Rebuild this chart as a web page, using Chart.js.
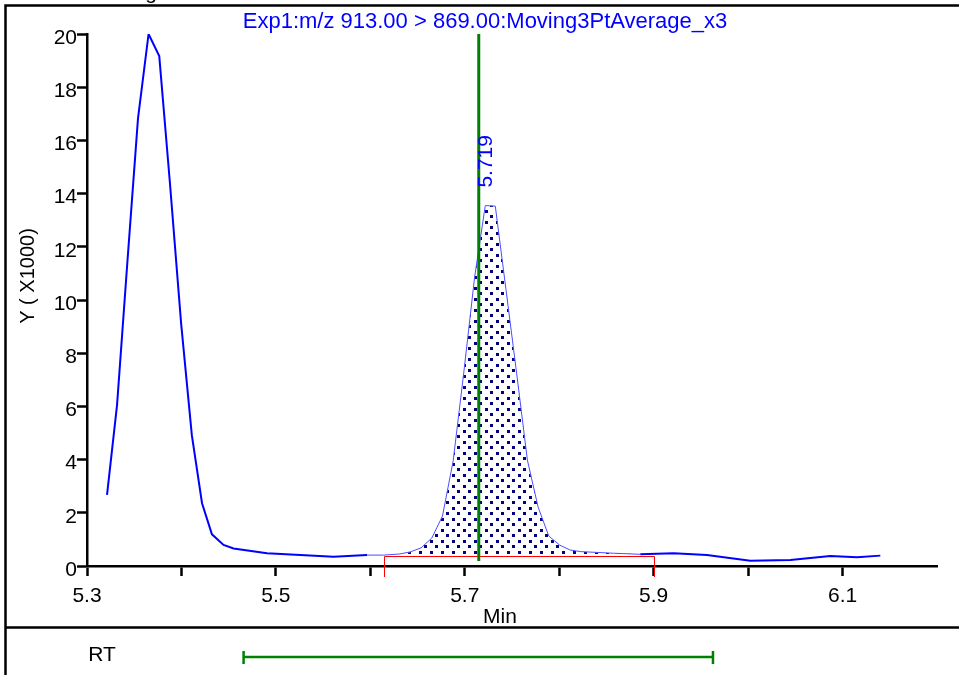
<!DOCTYPE html>
<html>
<head>
<meta charset="utf-8">
<script src="https://cdn.jsdelivr.net/npm/chart.js@4.4.1/dist/chart.umd.min.js"></script>
<style>
  html, body { margin: 0; padding: 0; background: #fff; }
</style>
</head>
<body>
<canvas id="chart1" width="959" height="675"></canvas>
<script>
// Datos del cromatograma (tiempo en min, señal en X1000)
const times = [5.3212, 5.3318, 5.3427, 5.354, 5.3652, 5.3765, 5.3878, 5.3997, 5.411, 5.4218,
  5.4323, 5.4446, 5.4552, 5.4906, 5.5611, 5.5965, 5.614, 5.6307, 5.6423, 5.6537,
  5.6651, 5.6764, 5.6877, 5.699, 5.7104, 5.7217, 5.7323, 5.7436, 5.755, 5.7663,
  5.7776, 5.7889, 5.8003, 5.8116, 5.8229, 5.8575, 5.8858, 5.9211, 5.9564, 6.0023,
  6.0447, 6.087, 6.1153, 6.14];
const signal = [2.67, 6.05, 11.4, 16.83, 20.0, 19.17, 14.4, 9.1, 4.92, 2.36,
  1.19, 0.79, 0.66, 0.48, 0.35, 0.41, 0.41, 0.45, 0.53, 0.68,
  1.05, 1.88, 3.95, 7.29, 10.85, 13.55, 13.53, 10.4, 7.22, 3.98,
  2.22, 1.13, 0.79, 0.6, 0.54, 0.48, 0.44, 0.48, 0.41, 0.2,
  0.23, 0.38, 0.33, 0.39];

// Ejes
const xTicks = [5.3, 5.4, 5.5, 5.6, 5.7, 5.8, 5.9, 6.0, 6.1];
const xTickLabels = ['5.3', '', '5.5', '', '5.7', '', '5.9', '', '6.1'];
const yTicks = [0, 2, 4, 6, 8, 10, 12, 14, 16, 18, 20];

// Pico integrado
const peakRT = 5.7148;
const peakLabel = '5.719';
const peakTop = 13.55;
const integStart = 5.614;
const integEnd = 5.9;
const integBase = 0.376;
const rtWindow = [5.4658, 5.9628];

const title = 'Exp1:m/z 913.00 > 869.00:Moving3PtAverage_x3';
const FONT = '"Liberation Sans", Arial, sans-serif';

// patrón de puntos para el área
const tile = document.createElement('canvas');
tile.width = 11; tile.height = 11;
const tc = tile.getContext('2d');
tc.fillStyle = '#000080';
tc.fillRect(1, 1, 3, 3);
tc.fillRect(6, 6, 3, 3);

function valueAt(t) {
  for (let i = 0; i < times.length - 1; i++) {
    if (t >= times[i] && t <= times[i + 1]) {
      const f = (t - times[i]) / (times[i + 1] - times[i]);
      return signal[i] + f * (signal[i + 1] - signal[i]);
    }
  }
  return integBase;
}

const extras = {
  id: 'extras',
  beforeDatasetsDraw(chart) {
    const { ctx, scales: { x, y } } = chart;
    ctx.save();
    ctx.beginPath();
    ctx.moveTo(x.getPixelForValue(integStart), y.getPixelForValue(integBase));
    ctx.lineTo(x.getPixelForValue(integStart), y.getPixelForValue(valueAt(integStart)));
    for (let i = 0; i < times.length; i++) {
      if (times[i] > integStart && times[i] < integEnd) {
        ctx.lineTo(x.getPixelForValue(times[i]), y.getPixelForValue(signal[i]));
      }
    }
    ctx.lineTo(x.getPixelForValue(integEnd), y.getPixelForValue(valueAt(integEnd)));
    ctx.lineTo(x.getPixelForValue(integEnd), y.getPixelForValue(integBase));
    ctx.closePath();
    ctx.fillStyle = ctx.createPattern(tile, 'repeat');
    ctx.fill();
    ctx.restore();
  },
  afterDatasetsDraw(chart) {
    const { ctx, scales: { x, y } } = chart;
    ctx.save();
    // línea base roja
    const xs = Math.round(x.getPixelForValue(integStart)) + 0.5;
    const xe = Math.round(x.getPixelForValue(integEnd)) + 0.5;
    const yb = Math.round(y.getPixelForValue(integBase)) + 0.5;
    ctx.strokeStyle = '#ff0000';
    ctx.lineWidth = 1;
    ctx.beginPath();
    ctx.moveTo(xs, y.bottom + 11);
    ctx.lineTo(xs, yb);
    ctx.lineTo(xe, yb);
    ctx.lineTo(xe, y.bottom + 11);
    ctx.stroke();

    // línea verde del tiempo de retención
    const xg = x.getPixelForValue(peakRT);
    ctx.strokeStyle = '#008000';
    ctx.lineWidth = 3;
    ctx.beginPath();
    ctx.moveTo(xg, y.top);
    ctx.lineTo(xg, y.getPixelForValue(0.19));
    ctx.stroke();

    // etiqueta del pico
    ctx.translate(xg + 13, y.getPixelForValue(peakTop) - 18);
    ctx.rotate(-Math.PI / 2);
    ctx.fillStyle = '#0000ff';
    ctx.font = '21px ' + FONT;
    ctx.textAlign = 'left';
    ctx.textBaseline = 'alphabetic';
    ctx.fillText(peakLabel, 0, 0);
    ctx.restore();
  },
  afterDraw(chart) {
    const { ctx, scales: { x } } = chart;
    ctx.save();
    // marco
    ctx.strokeStyle = '#000';
    ctx.lineWidth = 2.5;
    ctx.beginPath();
    ctx.moveTo(959, 5.5); ctx.lineTo(5.5, 5.5); ctx.lineTo(5.5, 675);
    ctx.moveTo(5.5, 627.5); ctx.lineTo(959, 627.5);
    ctx.stroke();

    // fragmento de texto cortado arriba
    ctx.fillStyle = '#000';
    ctx.font = '21px ' + FONT;
    ctx.textAlign = 'center';
    ctx.fillText('g', 151, -1);

    // título
    ctx.fillStyle = '#0000ff';
    ctx.font = '22px ' + FONT;
    ctx.fillText(title, 485, 28);

    // títulos de ejes
    ctx.fillStyle = '#000';
    ctx.font = '21px ' + FONT;
    ctx.fillText('Min', 500, 623);
    ctx.fillText('RT', 102, 661);
    ctx.save();
    ctx.translate(34, 276);
    ctx.rotate(-Math.PI / 2);
    ctx.font = '20px ' + FONT;
    ctx.fillText('Y ( X1000)', 0, 0);
    ctx.restore();

    // ventana RT
    const r0 = x.getPixelForValue(rtWindow[0]);
    const r1 = x.getPixelForValue(rtWindow[1]);
    ctx.strokeStyle = '#008000';
    ctx.lineWidth = 2.5;
    ctx.beginPath();
    ctx.moveTo(r0, 657); ctx.lineTo(r1, 657);
    ctx.moveTo(r0, 651); ctx.lineTo(r0, 664);
    ctx.moveTo(r1, 651); ctx.lineTo(r1, 664);
    ctx.stroke();
    ctx.restore();
  }
};

const inPeak = c => c.p0.parsed.x >= integStart - 0.02 && c.p1.parsed.x <= integEnd + 0.01;

const ctx = document.getElementById('chart1').getContext('2d');
const chart = new Chart(ctx, {
  type: 'line',
  data: {
    datasets: [{
      data: times.map((t, i) => ({ x: t, y: signal[i] })),
      borderColor: '#0000ff',
      borderWidth: 2,
      segment: {
        borderWidth: c => inPeak(c) ? 1 : 2,
        borderColor: c => inPeak(c) ? '#4d4dff' : '#0000ff'
      },
      pointRadius: 0,
      tension: 0,
      fill: false
    }]
  },
  options: {
    responsive: false,
    animation: false,
    layout: { padding: { left: 0, top: 34, right: 22, bottom: 0 } },
    plugins: { legend: { display: false }, tooltip: { enabled: false } },
    scales: {
      x: {
        type: 'linear',
        min: 5.3,
        max: 6.2,
        afterFit: s => { s.height = 109; },
        afterBuildTicks: s => { s.ticks = xTicks.map(v => ({ value: v })); },
        ticks: {
          autoSkip: false,
          maxRotation: 0,
          padding: 8,
          color: '#000',
          font: { family: FONT, size: 21 },
          callback: (v, i) => xTickLabels[i]
        },
        grid: { drawOnChartArea: false, drawTicks: true, tickLength: 10, tickColor: '#000', tickWidth: 2.5 },
        border: { display: true, color: '#000', width: 2.5 }
      },
      y: {
        type: 'linear',
        min: 0,
        max: 20,
        afterFit: s => { s.width = 87; },
        afterBuildTicks: s => { s.ticks = yTicks.map(v => ({ value: v })); },
        ticks: {
          autoSkip: false,
          padding: 0,
          labelOffset: 4,
          color: '#000',
          font: { family: FONT, size: 21 },
          callback: v => String(v)
        },
        grid: { drawOnChartArea: false, drawTicks: true, tickLength: 10, tickColor: '#000', tickWidth: 2.5 },
        border: { display: true, color: '#000', width: 2.5 }
      }
    }
  },
  plugins: [extras]
});
</script>
</body>
</html>
